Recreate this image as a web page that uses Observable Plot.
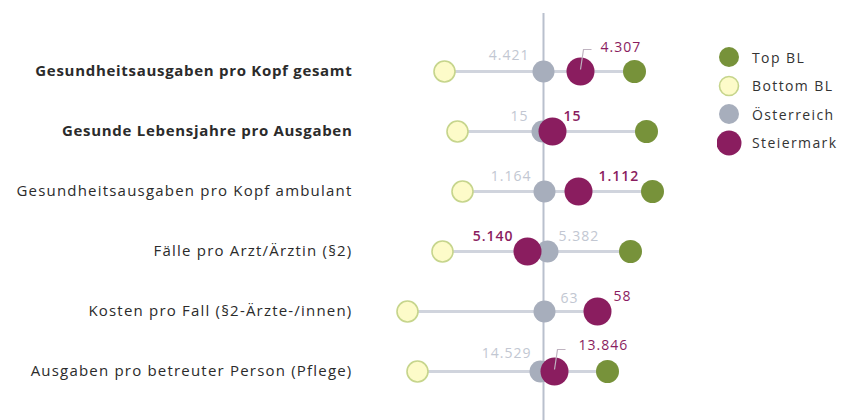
<!DOCTYPE html>
<html>
<head>
<meta charset="utf-8">
<script src="https://cdn.jsdelivr.net/npm/d3@7"></script>
<script src="https://cdn.jsdelivr.net/npm/@observablehq/plot@0.6"></script>
<style>
  html, body { margin: 0; padding: 0; background: #fff; }
  #wrap { position: relative; width: 842px; height: 420px; font-family: "Open Sans", sans-serif; }
  #legend { position: absolute; left: 717px; top: 43px; }
  .item { display: flex; align-items: center; height: 28.5px; }
  .item svg { width: 26px; height: 28px; flex: none; }
  .item span { margin-left: 9px; font-size: 14px; color: #333; letter-spacing: 1.4px; }
  .vlabel { letter-spacing: 1px; }
  .catR { letter-spacing: 1.2px; }
  .catB { letter-spacing: 0.7px; }
</style>
</head>
<body>
<div id="wrap"><div id="chart"></div><div id="legend"></div></div>
<script>
// ---- data (relative position to Österreich) ----
const categories = [
  "Gesundheitsausgaben pro Kopf gesamt",
  "Gesunde Lebensjahre pro Ausgaben",
  "Gesundheitsausgaben pro Kopf ambulant",
  "Fälle pro Arzt/Ärztin (§2)",
  "Kosten pro Fall (§2-Ärzte-/innen)",
  "Ausgaben pro betreuter Person (Pflege)"
];
const topBL       = [0.91, 1.03, 1.09, 0.87, 0.54, 0.64];
const bottomBL    = [-0.99, -0.86, -0.81, -1.01, -1.36, -1.26];
const oesterreich = [0.00, -0.01, 0.01, 0.04, 0.01, -0.03];
const steiermark  = [0.37, 0.09, 0.35, -0.16, 0.54, 0.11];
const oeLabels    = ["4.421", "15", "1.164", "5.382", "63", "14.529"];
const stLabels    = ["4.307", "15", "1.112", "5.140", "58", "13.846"];
const boldRows    = [true, true, false, false, false, false];
const leaderRows  = [true, false, false, false, false, true];
const seriesNames = ["Top BL", "Bottom BL", "Österreich", "Steiermark"];

// ---- layout / style ----
const C = {
  top: "#77923a", bottomFill: "#fdfbc9", bottomStroke: "#c6d58c",
  oe: "#a7aebc", st: "#8a1d5f", line: "#d0d4dd", vline: "#b9c0cd",
  oeText: "#c2c7d2", stText: "#8a1d5f", text: "#2b2b2b"
};
// [dx, dy, anchor, weight] per row
const oePlace = [[-14,-16,"end"],[-14,-15,"end"],[-13,-15,"end"],[11,-15,"start"],[16,-13,"start"],[-9,-18,"end"]];
const stPlace = [[20,-24,"start",400],[11,-15,"start",600],[20,-15,"start",600],[-14,-15,"end",600],[16,-15,"start",400],[24,-26,"start",400]];

const rows = categories.map((c, i) => ({
  cat: c, top: topBL[i], bottom: bottomBL[i], oe: oesterreich[i], st: steiermark[i],
  oeLabel: oeLabels[i], stLabel: stLabels[i], bold: boldRows[i], leader: leaderRows[i], i
}));

const leaderSymbol = {
  draw(ctx) { ctx.moveTo(0, -2); ctx.lineTo(3, -22); ctx.lineTo(11, -22); }
};

const valueMarks = [];
rows.forEach((r) => {
  const [odx, ody, oa] = oePlace[r.i];
  const [sdx, sdy, sa, sw] = stPlace[r.i];
  valueMarks.push(Plot.text([r], {x: "oe", y: "cat", text: "oeLabel", dx: odx, dy: ody, textAnchor: oa,
    fill: C.oeText, fontSize: 14, className: "vlabel"}));
  valueMarks.push(Plot.text([r], {x: "st", y: "cat", text: "stLabel", dx: sdx, dy: sdy, textAnchor: sa,
    fill: C.stText, fontSize: 14, fontWeight: sw, className: "vlabel"}));
});

const chart = Plot.plot({
  width: 842, height: 420,
  marginTop: 13, marginBottom: 0, marginLeft: 352, marginRight: 0,
  style: {fontFamily: "Open Sans, sans-serif", background: "transparent"},
  x: {domain: [-5.43, 2.99], range: [0, 842], axis: null},
  y: {type: "point", domain: categories, range: [71, 371], padding: 0, axis: null},
  marks: [
    Plot.ruleY(rows, {y: "cat", x1: "bottom", x2: d => Math.max(d.top, d.st, d.oe), stroke: C.line, strokeWidth: 3}),
    Plot.ruleX([0], {stroke: C.vline, strokeWidth: 2}),
    Plot.dot(rows, {x: "bottom", y: "cat", r: 10.5, fill: C.bottomFill, stroke: C.bottomStroke, strokeWidth: 1.6}),
    Plot.dot(rows, {x: "top", y: "cat", r: 11.5, fill: C.top}),
    Plot.dot(rows, {x: "oe", y: "cat", r: 11, fill: C.oe}),
    Plot.dot(rows, {x: "st", y: "cat", r: 14, fill: C.st}),
    Plot.dot(rows.filter(d => d.leader), {x: "st", y: "cat", symbol: leaderSymbol, r: 5, fill: "none", stroke: "#bfb3c0", strokeWidth: 1.2}),
    ...valueMarks,
    Plot.text(rows.filter(d => d.bold), {y: "cat", text: "cat", frameAnchor: "left", textAnchor: "end", dx: 0,
      fontSize: 15, fontWeight: "bold", fill: C.text, className: "catB"}),
    Plot.text(rows.filter(d => !d.bold), {y: "cat", text: "cat", frameAnchor: "left", textAnchor: "end", dx: 0,
      fontSize: 15, fill: C.text, className: "catR"})
  ]
});
document.getElementById("chart").appendChild(chart);

// legend
const legendStyles = [
  {fill: C.top, stroke: "none", r: 10},
  {fill: C.bottomFill, stroke: C.bottomStroke, r: 9.5},
  {fill: C.oe, stroke: "none", r: 10},
  {fill: C.st, stroke: "none", r: 12.5}
];
const legend = document.getElementById("legend");
seriesNames.forEach((name, i) => {
  const s = legendStyles[i];
  const item = document.createElement("div");
  item.className = "item";
  item.innerHTML = `<svg viewBox="0 0 26 28"><circle cx="12" cy="14" r="${s.r}" fill="${s.fill}" stroke="${s.stroke}" stroke-width="1.6"/></svg><span>${name}</span>`;
  legend.appendChild(item);
});
</script>
</body>
</html>
